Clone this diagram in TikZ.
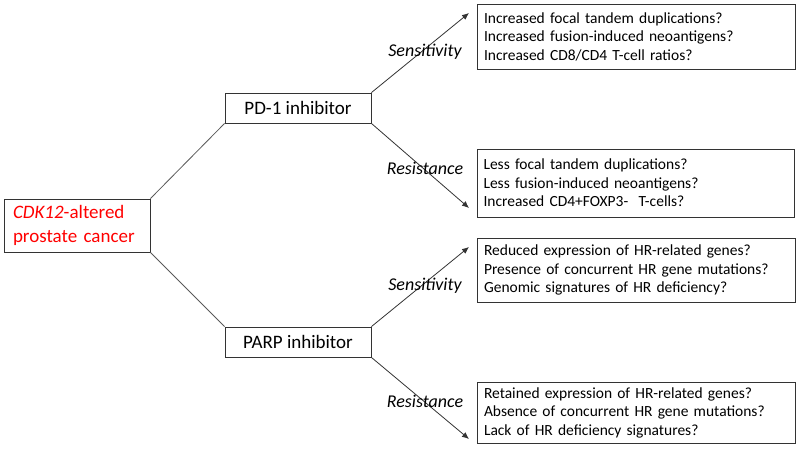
\documentclass[tikz,border=0pt]{standalone}
\usepackage{fontspec}
\setmainfont{Carlito}
\usetikzlibrary{arrows.meta}
\begin{document}
\begin{tikzpicture}[x=1pt,y=-1pt,
  mainbox/.style={draw=black!80,line width=0.8pt,inner sep=0pt,align=center,
    font=\fontsize{19}{24}\selectfont},
  qbox/.style={draw=black!80,line width=0.8pt,inner sep=0pt,align=left,
    text width=304pt,font=\fontsize{15.5}{18.5}\selectfont},
  link/.style={draw=black!65,line width=0.8pt},
  arr/.style={draw=black!80,line width=0.8pt,-{Latex[length=7pt,width=6pt]}},
  lab/.style={font=\fontsize{18}{22}\selectfont\itshape}]
\useasboundingbox (0,0) rectangle (798,450);
\node[mainbox,align=left,text width=128pt,minimum width=146pt,minimum height=53pt] (cdk) at (77,225.5)
  {\textcolor{red}{\textit{CDK12}-altered}\\\textcolor{red}{prostate cancer}};
\node[mainbox,minimum width=146pt,minimum height=30pt] (pd1) at (298,108) {PD-1 inhibitor};
\node[mainbox,minimum width=146pt,minimum height=30pt] (parp) at (298,342) {PARP inhibitor};
\node[qbox,minimum width=318pt,minimum height=65pt] (r1) at (636,36.5)
  {Increased focal tandem duplications?\\Increased fusion-induced neoantigens?\\Increased CD8/CD4 T-cell ratios?};
\node[qbox,minimum width=317pt,minimum height=68pt] (r2) at (635.5,183)
  {Less focal tandem duplications?\\Less fusion-induced neoantigens?\\Increased CD4+FOXP3-~ T-cells?};
\node[qbox,minimum width=318pt,minimum height=64pt] (r3) at (636,270)
  {Reduced expression of HR-related genes?\\Presence of concurrent HR gene mutations?\\Genomic signatures of HR deficiency?};
\node[qbox,minimum width=318pt,minimum height=61pt] (r4) at (636,412.5)
  {Retained expression of HR-related genes?\\Absence of concurrent HR gene mutations?\\Lack of HR deficiency signatures?};
\coordinate (t1) at (469,13);
\coordinate (t2) at (469,208);
\coordinate (t3) at (469,247);
\coordinate (t4) at (469,439);
\draw[link] (cdk.north east) -- (pd1.south west);
\draw[link] (cdk.south east) -- (parp.north west);
\draw[arr] (pd1.north east) -- (t1);
\draw[arr] (pd1.south east) -- (t2);
\draw[arr] (parp.north east) -- (t3);
\draw[arr] (parp.south east) -- (t4);
\node[lab] (l1) at (425,52) {Sensitivity};
\node[lab] (l2) at (425,168) {Resistance};
\node[lab] (l3) at (425,286) {Sensitivity};
\node[lab] (l4) at (425,401) {Resistance};
\end{tikzpicture}
\end{document}
